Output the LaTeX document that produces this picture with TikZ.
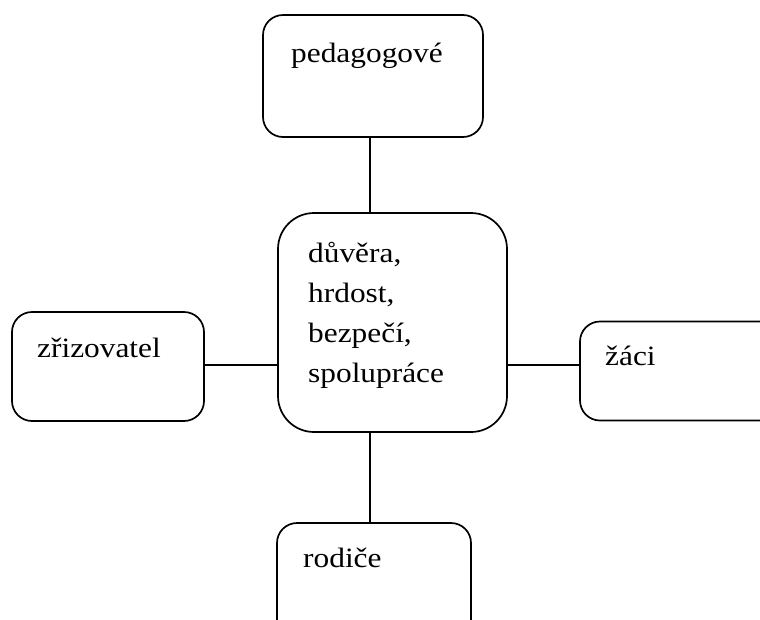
\documentclass[tikz,border=0pt]{standalone}
\usepackage{fontspec}
\setmainfont{Liberation Serif}[FakeStretch=1.12]
\begin{document}
\begin{tikzpicture}[x=1pt,y=-1pt,
  box/.style={draw=black, line width=1.7pt, rounded corners=20pt, inner sep=0pt, fill=white},
  lbl/.style={anchor=base west, inner sep=0pt, font=\fontsize{28}{34}\selectfont},
  link/.style={draw=black, line width=1.7pt}]
\path[use as bounding box, clip] (0,0) rectangle (760,619);
\fill[white] (0,0) rectangle (760,619);
% boxes
\node[box, minimum width=220pt, minimum height=122pt] (ped) at (373,76) {};
\node[box, minimum width=229pt, minimum height=219pt, rounded corners=36pt] (ctr) at (392.5,322.5) {};
\node[box, minimum width=192pt, minimum height=109pt] (zri) at (108,366.5) {};
\node[box, minimum width=210pt, minimum height=99pt] (zak) at (685,371) {};
\node[box, minimum width=194pt, minimum height=118pt] (rod) at (374,582) {};
% texts
\node[lbl] (tped) at (291,62) {pedagogové};
\node[lbl] (c1) at (308,262) {důvěra,};
\node[lbl] (c2) at (308,302) {hrdost,};
\node[lbl] (c3) at (308,342) {bezpečí,};
\node[lbl] (c4) at (308,382) {spolupráce};
\node[lbl] (tzri) at (37,357) {zřizovatel};
\node[lbl] (tzak) at (605,365) {žáci};
\node[lbl] (trod) at (303,567) {rodiče};
% connectors
\coordinate (vx) at (370,0);
\coordinate (hy) at (0,365);
\draw[link] (ped.south -| vx) -- (ctr.north -| vx);
\draw[link] (ctr.south -| vx) -- (rod.north -| vx);
\draw[link] (zri.east |- hy) -- (ctr.west |- hy);
\draw[link] (ctr.east |- hy) -- (zak.west |- hy);
\end{tikzpicture}
\end{document}
